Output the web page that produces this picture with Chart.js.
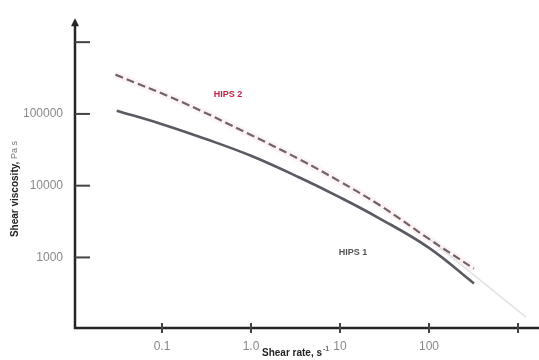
<!DOCTYPE html>
<html>
<head>
<meta charset="utf-8">
<script src="https://cdn.jsdelivr.net/npm/chart.js@4/dist/chart.umd.min.js"></script>
<style>
  html, body { margin: 0; padding: 0; background: #fff; }
  #wrap { width: 539px; height: 360px; }
</style>
</head>
<body>
<div id="wrap"><canvas id="chart"></canvas></div>
<script>
  // values
  const hips1Rate = [0.031, 0.1, 0.31, 1, 3.5, 10, 27, 100, 320];
  const hips1Visc = [111000, 72000, 44800, 26100, 13000, 6870, 3570, 1360, 434];
  const hips2Rate = [0.030, 0.17, 1, 3.6, 10, 28, 100, 320];
  const hips2Visc = [353000, 145000, 50800, 22900, 11400, 5330, 1810, 698];
  const tailRate = [100, 1230];
  const tailVisc = [1810, 147];

  const xTicks = [0.1, 1, 10, 100, 1000];
  const xTickLabels = ["0.1", "1.0", "10", "100", ""];
  const yTicks = [1000, 10000, 100000, 1000000];
  const yTickLabels = ["1000", "10000", "100000", ""];

  const seriesNames = ["HIPS 1", "HIPS 2"];
  const namePos = [[14, 1160], [0.55, 187000]];

  const toPoints = (xs, ys) => xs.map((x, i) => ({ x: x, y: ys[i] }));
  const axisColor = "#262626";

  const axesPlugin = {
    id: "axesPlugin",
    afterDraw(chart) {
      const ctx = chart.ctx;
      const area = chart.chartArea;
      const xs = chart.scales.x;
      const ys = chart.scales.y;
      ctx.save();
      ctx.strokeStyle = axisColor;
      ctx.fillStyle = axisColor;
      ctx.lineWidth = 2.5;
      // axis lines
      ctx.beginPath();
      ctx.moveTo(area.left, area.top + 2);
      ctx.lineTo(area.left, area.bottom);
      ctx.lineTo(area.right, area.bottom);
      ctx.stroke();
      // arrow head on y axis
      ctx.beginPath();
      ctx.moveTo(area.left, area.top - 1);
      ctx.lineTo(area.left - 4, area.top + 7);
      ctx.lineTo(area.left + 4, area.top + 7);
      ctx.closePath();
      ctx.fill();
      // tick marks
      ctx.lineWidth = 2;
      ctx.strokeStyle = "#444";
      yTicks.forEach((v) => {
        const py = ys.getPixelForValue(v);
        ctx.beginPath();
        ctx.moveTo(area.left, py);
        ctx.lineTo(area.left + 15, py);
        ctx.stroke();
      });
      xTicks.forEach((v) => {
        const px = xs.getPixelForValue(v);
        ctx.beginPath();
        ctx.moveTo(px, area.bottom - 5);
        ctx.lineTo(px, area.bottom + 5);
        ctx.stroke();
      });
      // axis titles
      ctx.fillStyle = "#222";
      ctx.textBaseline = "middle";
      ctx.textAlign = "left";
      ctx.font = "bold 10px 'Liberation Sans', Arial, sans-serif";
      const xt = "Shear rate, s";
      const xtw = ctx.measureText(xt).width;
      ctx.fillText(xt, 262, 353);
      ctx.font = "bold 7px 'Liberation Sans', Arial, sans-serif";
      ctx.fillStyle = "#666";
      ctx.fillText("-1", 262 + xtw + 1, 349);

      ctx.translate(15, 189);
      ctx.rotate(-Math.PI / 2);
      const yt1 = "Shear viscosity, ";
      ctx.font = "bold 10px 'Liberation Sans', Arial, sans-serif";
      const w1 = ctx.measureText(yt1).width;
      ctx.font = "9px 'Liberation Sans', Arial, sans-serif";
      const w2 = ctx.measureText("Pa s").width;
      const start = -(w1 + w2) / 2;
      ctx.font = "bold 10px 'Liberation Sans', Arial, sans-serif";
      ctx.fillStyle = "#222";
      ctx.fillText(yt1, start, 0);
      ctx.font = "9px 'Liberation Sans', Arial, sans-serif";
      ctx.fillStyle = "#777";
      ctx.fillText("Pa s", start + w1, 0);
      ctx.restore();

      // series names
      ctx.save();
      ctx.textAlign = "center";
      ctx.textBaseline = "middle";
      ctx.font = "bold 9px 'Liberation Sans', Arial, sans-serif";
      const nameColors = ["#555", "#c41e45"];
      seriesNames.forEach((n, i) => {
        ctx.fillStyle = nameColors[i];
        ctx.fillText(n, xs.getPixelForValue(namePos[i][0]), ys.getPixelForValue(namePos[i][1]));
      });
      ctx.restore();
    }
  };

  new Chart(document.getElementById("chart"), {
    type: "line",
    data: {
      datasets: [
        {
          label: "HIPS 1",
          data: toPoints(hips1Rate, hips1Visc),
          borderColor: "#5b5a62",
          borderWidth: 2.6,
          pointRadius: 0,
          tension: 0.4,
          order: 1
        },
        {
          label: "HIPS 2",
          data: toPoints(hips2Rate, hips2Visc),
          borderColor: "#6e6469",
          borderWidth: 2.2,
          borderDash: [8, 4],
          pointRadius: 0,
          tension: 0.4,
          order: 2
        },
        {
          label: "halo",
          data: toPoints(hips2Rate, hips2Visc),
          borderColor: "rgba(245, 200, 210, 0.22)",
          borderWidth: 7,
          pointRadius: 0,
          tension: 0.4,
          order: 4
        },
        {
          label: "tail",
          data: toPoints(tailRate, tailVisc),
          borderColor: "#e2e2e2",
          borderWidth: 1.5,
          pointRadius: 0,
          order: 3
        }
      ]
    },
    options: {
      responsive: true,
      maintainAspectRatio: false,
      animation: false,
      layout: { padding: { top: 16, right: 0, left: 0, bottom: 0 } },
      plugins: { legend: { display: false }, tooltip: { enabled: false } },
      scales: {
        x: {
          type: "logarithmic",
          min: Math.pow(10, -1.9775),
          max: Math.pow(10, 3.236),
          grid: { display: false, drawTicks: false },
          border: { display: false },
          afterBuildTicks: (s) => { s.ticks = xTicks.map((v) => ({ value: v })); },
          afterFit: (s) => { s.height = 32; },
          ticks: {
            autoSkip: false,
            maxRotation: 0,
            padding: 11,
            color: "#888",
            font: { family: "'Liberation Sans', Arial, sans-serif", size: 12 },
            callback: (v) => { const i = xTicks.indexOf(v); return i >= 0 ? xTickLabels[i] : ""; }
          }
        },
        y: {
          type: "logarithmic",
          min: Math.pow(10, 2.0166),
          max: Math.pow(10, 6.32),
          grid: { display: false, drawTicks: false },
          border: { display: false },
          afterBuildTicks: (s) => { s.ticks = yTicks.map((v) => ({ value: v })); },
          afterFit: (s) => { s.width = 75; },
          ticks: {
            autoSkip: false,
            padding: 12,
            color: "#888",
            font: { family: "'Liberation Sans', Arial, sans-serif", size: 12 },
            callback: (v) => { const i = yTicks.indexOf(v); return i >= 0 ? yTickLabels[i] : ""; }
          }
        }
      }
    },
    plugins: [axesPlugin]
  });
</script>
</body>
</html>
